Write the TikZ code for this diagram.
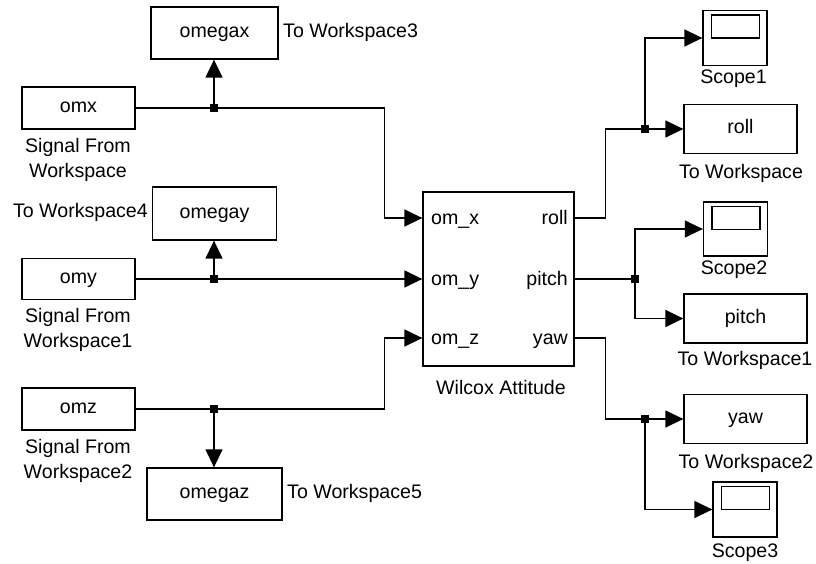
\documentclass[tikz,border=0pt]{standalone}
\usepackage{fontspec}
\setmainfont{Liberation Sans}
\usepackage{tikz}
\usetikzlibrary{arrows.meta}
\newcommand{\blkfont}{\fontsize{19.6}{25}\selectfont}
\tikzset{
  blk/.style={draw,line width=1.3pt,font=\blkfont,inner sep=0pt,
    text height=13.5pt,text depth=4pt},
  scopeblk/.style={blk,minimum width=64pt,minimum height=55pt},
  lbl/.style={font=\blkfont,align=center,inner sep=0pt},
  port/.style={font=\blkfont,inner sep=0pt,text height=13.5pt,text depth=0pt},
  wire/.style={line width=1.4pt},
  sig/.style={wire,-{Triangle[length=18pt,width=17pt]}},
  junc/.style={fill,rectangle,minimum size=8pt,inner sep=0pt},
}

\begin{document}
\begin{tikzpicture}[x=1pt,y=-1pt]
  \useasboundingbox (0,0) rectangle (816,564);
  % sources and workspace sinks
  \node[blk,minimum width=113pt,minimum height=42pt] (omx) at (78.5,108) {omx};
  \node[blk,minimum width=113pt,minimum height=41pt] (omy) at (78.5,279) {omy};
  \node[blk,minimum width=113pt,minimum height=42pt] (omz) at (78.5,409) {omz};
  \node[lbl] (lomx) at (78,160) {Signal From\\Workspace};
  \node[lbl] (lomy) at (78,330) {Signal From\\Workspace1};
  \node[lbl] (lomz) at (78,460.5) {Signal From\\Workspace2};
  \node[blk,minimum width=127pt,minimum height=52pt] (omegax) at (214.5,33) {omegax};
  \node[blk,minimum width=124pt,minimum height=53pt] (omegay) at (214.5,213.5) {omegay};
  \node[blk,minimum width=135pt,minimum height=52pt] (omegaz) at (214.5,494) {omegaz};
  \node[lbl,anchor=west] (lomegax) at (283,32) {To Workspace3};
  \node[lbl,anchor=east] (lomegay) at (148,212) {To Workspace4};
  \node[lbl,anchor=west] (lomegaz) at (287,493) {To Workspace5};
  % attitude block
  \node[blk,minimum width=151pt,minimum height=174pt] (wil) at (498.5,279) {};
  \node[lbl] (lwil) at (501,387) {Wilcox Attitude};
  \node[port,anchor=west] (pomx) at (431,218) {om\_x};
  \node[port,anchor=west] (pomy) at (431,279) {om\_y};
  \node[port,anchor=west] (pomz) at (431,338) {om\_z};
  \node[port,anchor=east] (proll) at (568,218) {roll};
  \node[port,anchor=east] (ppitch) at (568,279) {pitch};
  \node[port,anchor=east] (pyaw) at (568,338) {yaw};
  \coordinate (inx) at (wil.west |- pomx);
  \coordinate (iny) at (wil.west |- pomy);
  \coordinate (inz) at (wil.west |- pomz);
  \coordinate (outr) at (wil.east |- proll);
  \coordinate (outp) at (wil.east |- ppitch);
  \coordinate (outy) at (wil.east |- pyaw);
  % outputs
  \node[scopeblk] (sc1) at (735,38) {};
  \node[scopeblk,minimum height=54pt] (sc2) at (735.5,229) {};
  \node[scopeblk] (sc3) at (745,509.5) {};
  \foreach \s in {sc1,sc2,sc3}
    \draw[wire] ([xshift=9pt,yshift=-5pt]\s.north west) rectangle ([xshift=-8pt,yshift=-28pt]\s.north east);
  \node[lbl] (lsc1) at (733.5,79) {Scope1};
  \node[lbl] (lsc2) at (734,270) {Scope2};
  \node[lbl] (lsc3) at (745,553) {Scope3};
  \node[blk,minimum width=113pt,minimum height=49pt] (roll) at (740.5,129) {roll};
  \node[blk,minimum width=123pt,minimum height=49pt] (pitch) at (745.5,318.5) {pitch};
  \node[blk,minimum width=123pt,minimum height=49pt] (yaw) at (745.5,419) {yaw};
  \node[lbl] (lroll) at (741,173) {To Workspace};
  \node[lbl] (lpitch) at (745,360) {To Workspace1};
  \node[lbl] (lyaw) at (746,463) {To Workspace2};
  % branch points
  \node[junc] (jx) at (214,108) {};
  \node[junc] (jy) at (214,279) {};
  \node[junc] (jz) at (214,409) {};
  \node[junc] (jr) at (645,129) {};
  \node[junc] (jp) at (635,279) {};
  \node[junc] (jw) at (645,419) {};
  % input wiring
  \draw[wire] (omx.east |- jx) -- (jx.center);
  \draw[sig] (jx.center) -- (jx.center |- omegax.south);
  \draw[sig] (jx.center) -| ([xshift=-38pt]inx) -- (inx);
  \draw[wire] (omy.east |- jy) -- (jy.center);
  \draw[sig] (jy.center) -- (jy.center |- omegay.south);
  \draw[sig] (jy.center) -- (iny);
  \draw[wire] (omz.east |- jz) -- (jz.center);
  \draw[sig] (jz.center) -- (jz.center |- omegaz.north);
  \draw[sig] (jz.center) -| ([xshift=-38pt]inz) -- (inz);
  % output wiring
  \draw[wire] (outr) -- ++(31,0) |- (jr.center);
  \draw[sig] (jr.center) -- (roll.west);
  \draw[sig] (jr.center) |- (sc1.west);
  \draw[wire] (outp) -- (jp.center);
  \draw[sig] (jp.center) |- (sc2.west);
  \draw[sig] (jp.center) |- (pitch.west);
  \draw[wire] (outy) -- ++(31,0) |- (jw.center);
  \draw[sig] (jw.center) -- (yaw.west);
  \draw[sig] (jw.center) |- (sc3.west);
\end{tikzpicture}
\end{document}
